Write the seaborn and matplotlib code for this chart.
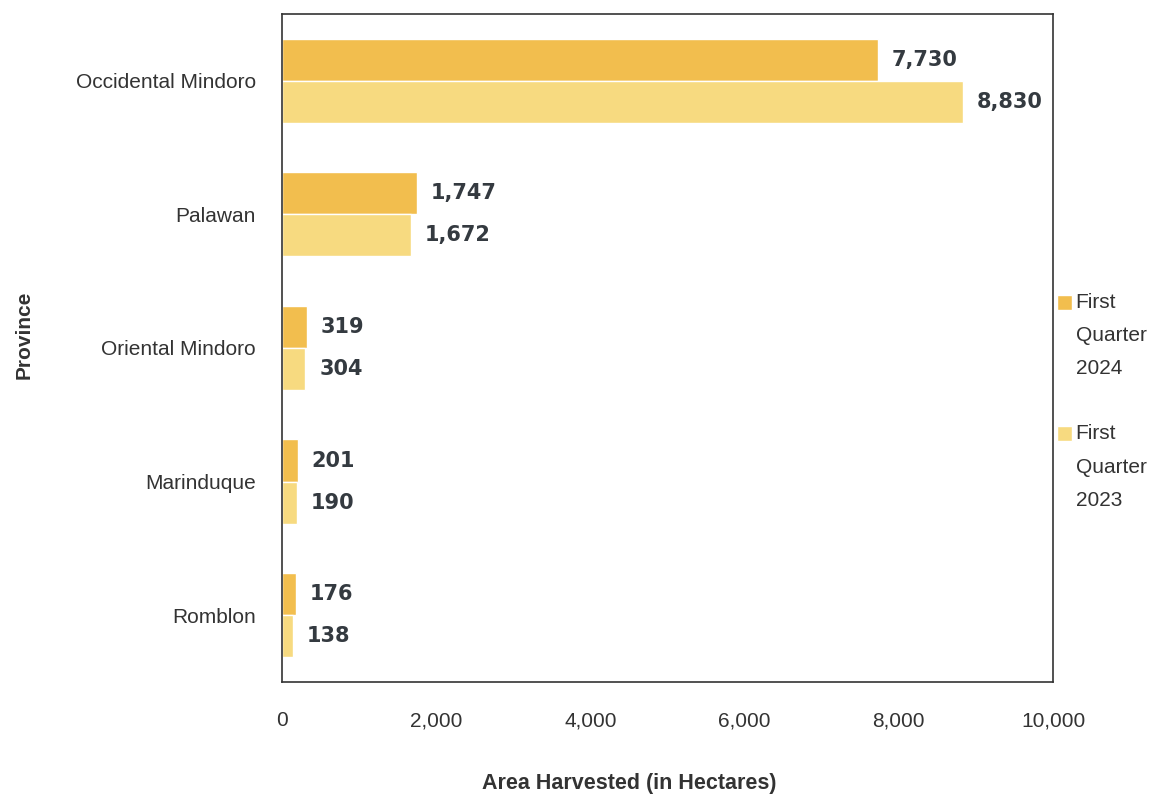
import pandas as pd
import seaborn as sns
import matplotlib.pyplot as plt

# Data
provinces = ['Occidental Mindoro', 'Palawan', 'Oriental Mindoro', 'Marinduque', 'Romblon']
q1_2024 = [7730, 1747, 319, 201, 176]
q1_2023 = [8830, 1672, 304, 190, 138]
periods = ['First\nQuarter\n2024', 'First\nQuarter\n2023']
colors = ['#F2BE4E', '#F7DA80']
xticks = [0, 2000, 4000, 6000, 8000, 10000]

df = pd.DataFrame({
    'Province': provinces * 2,
    'Area': q1_2024 + q1_2023,
    'Period': [periods[0]] * len(provinces) + [periods[1]] * len(provinces),
})

sns.set_style('white')
plt.rcParams['font.family'] = ['Liberation Sans', 'DejaVu Sans']

fig = plt.figure(figsize=(11.64, 7.98), dpi=100)
ax = fig.add_axes([0.2423, 0.1454, 0.6624, 0.8371])

sns.barplot(data=df, y='Province', x='Area', hue='Period', orient='h',
            palette=colors, width=0.63, saturation=1, ax=ax, legend=True)

for container in ax.containers:
    ax.bar_label(container, labels=[f'{v:,.0f}' for v in container.datavalues],
                 padding=10, fontsize=15, fontweight='bold', color='#343a40',
                 family=['DejaVu Sans'])

ax.set_xlim(0, 10000)
ax.set_ylim(4.5, -0.5)
ax.set_xticks(xticks)
ax.set_xticklabels([f'{t:,}' for t in xticks])
ax.tick_params(axis='both', labelsize=15, colors='#333333', length=0)
ax.tick_params(axis='x', pad=21)
ax.tick_params(axis='y', pad=19)
for s in ax.spines.values():
    s.set_color('#333333')
    s.set_linewidth(1.2)

ax.set_xlabel('Area Harvested (in Hectares)', fontsize=15.5, fontweight='bold',
              color='#333333')
ax.xaxis.set_label_coords(0.45, -0.137)
ax.set_ylabel('Province', fontsize=15, fontweight='bold', color='#333333')
ax.yaxis.set_label_coords(-0.322, 0.52)

leg = ax.legend(loc='center left', bbox_to_anchor=(0.99, 0.42), frameon=False,
                fontsize=15, handlelength=0.6, handleheight=4.8, handletextpad=0.3,
                labelspacing=2.2, borderaxespad=0.15)
for t in leg.get_texts():
    t.set_color('#333333')
    t.set_linespacing(1.95)
# put the little square next to the first line of each label
for h in leg.legend_handles:
    y0, hh = h.get_y(), h.get_height()
    h.set_height(11)
    h.set_width(11)
    h.set_y(y0 + hh - 5)

fig.savefig('out.png', dpi=100)
